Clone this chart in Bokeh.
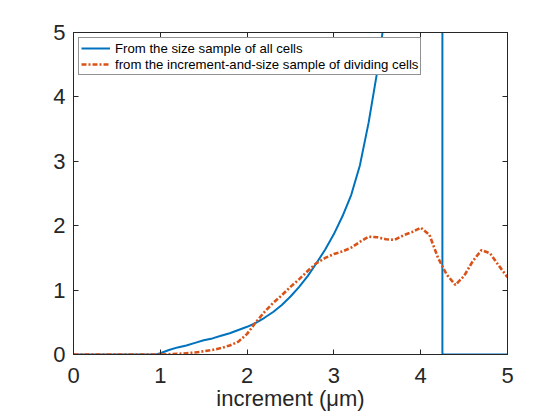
from bokeh.plotting import figure
from bokeh.models import Range1d, LinearAxis, FixedTicker, Legend, LegendItem
from bokeh.embed import file_html
from bokeh.resources import INLINE

# Density estimates against increment (um)
x_all = [0.0, 0.95, 1.0, 1.1, 1.2, 1.3, 1.4, 1.5, 1.6, 1.7, 1.8, 1.9, 2.0,
         2.1, 2.2, 2.3, 2.4, 2.5, 2.6, 2.7, 2.8, 2.9, 3.0, 3.1, 3.2, 3.3,
         3.4, 3.5, 3.6, 3.7, 3.8, 3.9, 4.0, 4.1, 4.2, 4.25, 4.25, 4.3,
         4.5, 4.75, 5.0]
y_all = [0.0, 0.0, 0.02, 0.07, 0.11, 0.14, 0.18, 0.22, 0.25, 0.29, 0.33,
         0.38, 0.43, 0.49, 0.57, 0.66, 0.77, 0.9, 1.05, 1.22, 1.42, 1.63,
         1.87, 2.15, 2.48, 2.94, 3.6, 4.4, 5.4, 6.6, 8.2, 10.2, 12.8, 16.0,
         20.0, 22.0, 0.0, 0.0, 0.0, 0.0, 0.0]

x_div = [0.0, 1.0, 1.1, 1.2, 1.3, 1.4, 1.5, 1.6, 1.7, 1.8, 1.9, 2.0, 2.1,
         2.2, 2.3, 2.4, 2.5, 2.6, 2.7, 2.8, 2.9, 3.0, 3.1, 3.2, 3.3, 3.4,
         3.5, 3.6, 3.7, 3.8, 3.9, 4.0, 4.1, 4.2, 4.3, 4.4, 4.5, 4.6, 4.7,
         4.8, 4.9, 5.0]
y_div = [0.0, 0.0, 0.005, 0.01, 0.02, 0.03, 0.05, 0.07, 0.1, 0.14, 0.2,
         0.32, 0.5, 0.66, 0.8, 0.92, 1.05, 1.17, 1.3, 1.42, 1.5, 1.56, 1.6,
         1.66, 1.75, 1.83, 1.82, 1.79, 1.78, 1.85, 1.9, 1.97, 1.86, 1.5,
         1.24, 1.08, 1.22, 1.45, 1.62, 1.57, 1.38, 1.2]

ticks = [0, 1, 2, 3, 4, 5]
label_all = "From the size sample of all cells"
label_div = "from the increment-and-size sample of dividing cells"

FONT = "Liberation Sans"
INK = "#262626"

p = figure(width=560, height=420, output_backend="svg", toolbar_location=None,
           x_range=Range1d(0, 5), y_range=Range1d(0, 5),
           min_border_left=73, min_border_right=53,
           min_border_top=32, min_border_bottom=66)
p.grid.visible = False
p.outline_line_color = INK
p.outline_line_width = 1
p.background_fill_color = "white"

r_all = p.line(x_all, y_all, line_color="#0072BD", line_width=2)
r_div = p.line(x_div, y_div, line_color="#D95319", line_width=2.6,
               line_dash="5 2 2 2")

def style_axis(ax, show_labels):
    ax.ticker = FixedTicker(ticks=ticks)
    ax.major_tick_in = 5
    ax.major_tick_out = 0
    ax.minor_tick_in = 0
    ax.minor_tick_out = 0
    ax.axis_line_color = INK
    ax.major_tick_line_color = INK
    ax.major_label_text_font = FONT
    ax.major_label_text_color = INK
    ax.major_label_text_font_size = "22px"
    if not show_labels:
        ax.major_label_overrides = {t: "" for t in ticks}
        ax.major_label_standoff = 0

style_axis(p.xaxis[0], True)
style_axis(p.yaxis[0], True)
p.xaxis[0].major_label_standoff = 13
p.yaxis[0].major_label_standoff = 8
p.xaxis[0].axis_label = "increment (μm)"
p.xaxis[0].axis_label_text_font = FONT
p.xaxis[0].axis_label_text_font_style = "normal"
p.xaxis[0].axis_label_text_font_size = "22px"
p.xaxis[0].axis_label_text_color = INK
p.xaxis[0].axis_label_standoff = 0

top_ax = LinearAxis()
right_ax = LinearAxis()
style_axis(top_ax, False)
style_axis(right_ax, False)
p.add_layout(top_ax, "above")
p.add_layout(right_ax, "right")

legend = Legend(items=[LegendItem(label=label_all, renderers=[r_all]),
                       LegendItem(label=label_div, renderers=[r_div])],
                location="top_left")
legend.margin = 5
legend.padding = 2
legend.spacing = 0
legend.label_height = 16
legend.glyph_height = 16
legend.glyph_width = 29
legend.label_standoff = 5
legend.label_text_font = FONT
legend.label_text_font_size = "13.2px"
legend.label_text_color = "black"
legend.border_line_color = INK
legend.border_line_width = 1
legend.background_fill_color = "white"
legend.background_fill_alpha = 1
p.add_layout(legend, "center")

open("out.html", "w").write(file_html(p, INLINE))
